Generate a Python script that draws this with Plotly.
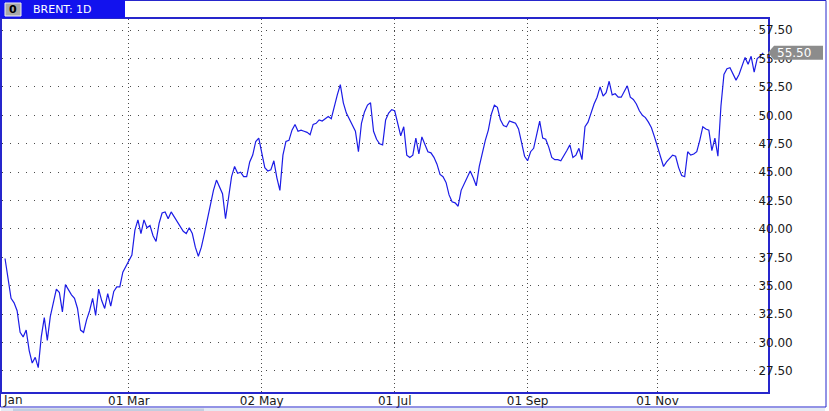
import pandas as pd
import plotly.graph_objects as go

# Brent 1D, 2016 - daily closes, one list per month (business days)
jan = [37.4, 35.6, 33.9, 33.5, 32.8, 30.9, 30.5, 31.1, 29.3, 28.2,
       28.7, 27.8, 30.5, 32.2, 30.2, 32.3, 33.6, 34.7, 34.4, 32.7]
feb = [35.1, 34.6, 34.2, 33.9, 33.0, 31.1, 30.9, 32.0, 32.8, 33.9,
       32.4, 34.7, 33.7, 33.0, 34.3, 33.2, 34.5, 34.9, 34.9, 36.2, 36.7]
mar = [37.1, 37.7, 39.9, 40.8, 39.6, 40.8, 40.1, 40.3, 39.4, 38.9,
       40.5, 41.4, 41.5, 40.9, 41.5, 41.1, 40.6, 40.2, 39.8, 39.6,
       40.1, 39.6, 38.4]
apr = [37.6, 38.4, 39.6, 40.9, 42.1, 43.4, 44.3, 43.7, 43.1, 40.9,
       43.0, 44.6, 45.5, 44.9, 45.0, 44.6, 44.6, 45.9, 46.5, 47.7, 48.0]
may = [46.7, 45.4, 45.1, 45.2, 46.0, 44.5, 43.4, 46.5, 47.7, 47.8,
       48.7, 49.2, 48.6, 48.7, 48.6, 48.5, 48.3, 49.2, 49.3, 49.6,
       49.5, 49.7]
jun = [49.9, 49.7, 50.8, 51.8, 52.7, 51.1, 50.2, 49.7, 49.1, 48.6,
       46.8, 49.3, 50.3, 50.9, 51.1, 48.6, 47.9, 47.5, 47.4, 49.6,
       50.2, 50.5]
jul = [50.4, 49.4, 48.2, 49.0, 46.5, 46.3, 46.5, 48.0, 46.6, 48.1,
       47.4, 46.8, 46.7, 46.3, 45.7, 44.8, 44.6, 44.1, 43.0, 42.4, 42.3]
aug = [42.0, 43.4, 44.0, 44.5, 45.1, 44.5, 43.8, 45.5, 46.8, 47.8,
       48.7, 50.1, 50.9, 50.7, 49.6, 49.1, 49.0, 49.5, 49.4, 49.3,
       48.8, 47.5, 46.4]
sep = [46.0, 46.8, 47.1, 48.2, 49.5, 48.0, 47.9, 47.2, 46.3, 46.1,
       46.1, 46.0, 46.4, 46.9, 47.4, 46.3, 46.5, 47.1, 46.1, 49.0,
       49.4, 50.3]
oct = [51.0, 51.6, 52.5, 51.7, 52.0, 53.0, 51.8, 51.9, 51.6, 51.6,
       52.1, 52.6, 51.6, 51.4, 51.0, 50.4, 50.0, 49.8, 49.4, 48.9, 48.1]
nov = [47.2, 46.3, 45.5, 45.9, 46.2, 46.5, 46.4, 45.4, 44.7, 44.6,
       46.8, 46.5, 46.6, 46.8, 47.8, 49.0, 48.8, 48.7, 46.9, 48.0,
       46.4, 50.8]
dec = [53.6, 54.1, 54.2, 53.7, 53.1, 53.6, 54.3, 55.1, 54.5, 55.2,
       53.8, 55.0, 55.2, 55.5]

prices = jan + feb + mar + apr + may + jun + jul + aug + sep + oct + nov + dec
dates = pd.bdate_range("2016-01-04", periods=len(prices))

tick_dates = ["2016-03-01", "2016-05-02", "2016-07-01", "2016-09-01", "2016-11-01"]
tick_text = ["01 Mar", "02 May", "01 Jul", "01 Sep", "01 Nov"]
first_label = "Jan"   # clipped first date label at the left edge
price_ticks = [27.5, 30.0, 32.5, 35.0, 37.5, 40.0, 42.5,
               45.0, 47.5, 50.0, 52.5, 55.0, 57.5]
last_price = 55.50
title = "BRENT: 1D"

# ─── Layout / colours ─────────────────────────────────────────
W, H = 829, 411
L, R, T, B = 2, 61, 19, 19
Y_RANGE = [25.65, 58.48]
LINE = "#1c1ce6"
FRAME = "#2626cc"
TAB = "#1212ee"
GRID = "#4a4a4a"
TEXT = "#1a1a1a"
FONT = "DejaVu Sans"


def px(x):
    """pixel x -> paper x"""
    return (x - L) / (W - L - R)


def py(y):
    """pixel y (from top) -> paper y"""
    return (H - B - y) / (H - T - B)


fig = go.Figure(go.Scatter(
    x=dates,
    y=prices,
    mode="lines",
    line=dict(color=LINE, width=1.2),
    hoverinfo="x+y",
))

# price tag on the right axis
half = 7 * (Y_RANGE[1] - Y_RANGE[0]) / (H - T - B)
tag_path = (
    f"M {px(768)},{last_price} L {px(774)},{last_price + half} "
    f"L {px(823)},{last_price + half} L {px(823)},{last_price - half} "
    f"L {px(774)},{last_price - half} Z"
)

shapes = [
    # outer frame
    dict(type="rect", xref="paper", yref="paper",
         x0=px(0.5), x1=px(826), y0=py(0.5), y1=py(407),
         line=dict(color=FRAME, width=1)),
    # title tab
    dict(type="rect", xref="paper", yref="paper",
         x0=px(0), x1=px(125), y0=py(0), y1=py(18),
         fillcolor=TAB, line=dict(width=0)),
    # little icon in the tab
    dict(type="rect", xref="paper", yref="paper",
         x0=px(5), x1=px(21), y0=py(3), y1=py(16),
         fillcolor="#a9a9a9", line=dict(color="#f0f0f0", width=1)),
    # scrollbar strip at the bottom
    dict(type="rect", xref="paper", yref="paper",
         x0=px(1), x1=px(825), y0=py(408), y1=py(411),
         fillcolor="#e4eaf3", line=dict(width=0)),
    dict(type="rect", xref="paper", yref="paper",
         x0=px(13), x1=px(204), y0=py(408.5), y1=py(411),
         fillcolor="#c2cee0", line=dict(width=0)),
    # last price tag
    dict(type="path", xref="paper", yref="y", path=tag_path,
         fillcolor="#8c8c8c", line=dict(width=0), layer="above"),
]

annotations = [
    dict(text="<b>0</b>", xref="paper", yref="paper", x=px(13), y=py(9.5),
         xanchor="center", yanchor="middle", showarrow=False,
         font=dict(family=FONT, size=11, color="#000000")),
    dict(text=title, xref="paper", yref="paper", x=px(31), y=py(9.5),
         xanchor="left", yanchor="middle", showarrow=False,
         font=dict(family=FONT, size=11, color="#ffffff")),
    dict(text=f"{last_price:.2f}", xref="paper", yref="y", x=px(775), y=last_price,
         xanchor="left", yanchor="middle", showarrow=False,
         font=dict(family=FONT, size=12, color="#ffffff")),
    dict(text=first_label, xref="paper", yref="paper", x=px(1), y=py(400),
         xanchor="left", yanchor="middle", showarrow=False,
         font=dict(family=FONT, size=12, color=TEXT)),
]

fig.update_layout(
    width=W,
    height=H,
    margin=dict(l=L, r=R, t=T, b=B, autoexpand=False),
    paper_bgcolor="#ffffff",
    plot_bgcolor="#ffffff",
    font=dict(family=FONT, size=12, color=TEXT),
    showlegend=False,
    shapes=shapes,
    annotations=annotations,
)

fig.update_xaxes(
    type="date",
    range=["2016-01-01", "2016-12-21 14:00"],
    rangebreaks=[dict(bounds=["sat", "mon"])],
    tickvals=tick_dates,
    ticktext=tick_text,
    automargin=False,
    ticks="",
    ticklabelstandoff=-3,
    showgrid=True,
    gridcolor=GRID,
    griddash="1px,3px",
    gridwidth=1,
    showline=True,
    mirror=True,
    linecolor=FRAME,
    linewidth=2,
    zeroline=False,
    tickfont=dict(family=FONT, size=12, color=TEXT),
)

fig.update_yaxes(
    side="right",
    range=Y_RANGE,
    tickvals=price_ticks,
    tickformat=".2f",
    ticks="",
    ticklabelstandoff=-14,
    automargin=False,
    showgrid=True,
    gridcolor=GRID,
    griddash="1px,7px",
    gridwidth=1,
    showline=True,
    mirror=True,
    linecolor=FRAME,
    linewidth=2,
    zeroline=False,
    tickfont=dict(family=FONT, size=12, color=TEXT),
)

fig.write_html(
    "out.html",
    config=dict(displayModeBar=False),
    post_script="document.body.style.margin = '0';",
)
